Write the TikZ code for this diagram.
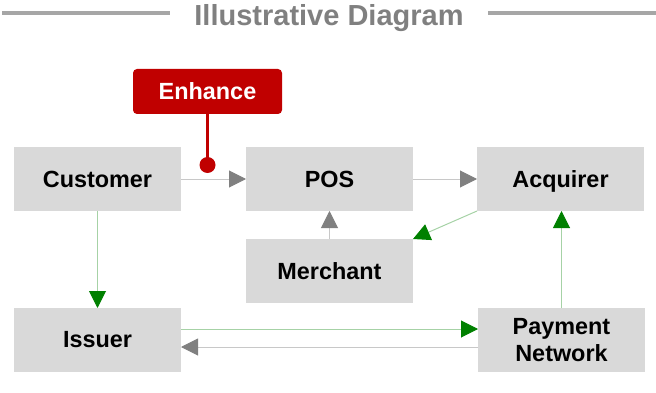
\documentclass[tikz,border=0pt]{standalone}
\usepackage{fontspec}
\setmainfont{Liberation Sans}
\usetikzlibrary{arrows.meta}
\definecolor{boxgray}{HTML}{D9D9D9}
\definecolor{tipgray}{HTML}{808080}
\definecolor{linegray}{HTML}{C8C8C8}
\definecolor{tipgreen}{HTML}{008000}
\definecolor{linegreen}{HTML}{A6D2A6}
\definecolor{enhred}{HTML}{C00000}
\definecolor{titlegray}{HTML}{808080}
\definecolor{titleline}{HTML}{A6A6A6}
\tikzset{
  box/.style={rectangle, fill=boxgray, minimum width=167pt, minimum height=64pt,
    inner sep=0pt, outer sep=0pt, align=center,
    font=\fontsize{23.4}{27}\selectfont\bfseries},
  grayarrow/.style={draw=linegray, line width=1pt,
    -{Triangle[length=17pt,width=17pt,color=tipgray]}},
  greenarrow/.style={draw=linegreen, line width=1pt,
    -{Triangle[length=17pt,width=17pt,color=tipgreen]}},
  enhbox/.style={rectangle, rounded corners=4pt, fill=enhred, text=white,
    minimum width=149pt, minimum height=45pt, inner sep=0pt, outer sep=0pt,
    font=\fontsize{23.4}{27}\selectfont\bfseries},
  enhdot/.style={circle, fill=enhred, minimum size=16pt, inner sep=0pt, outer sep=0pt},
  enhline/.style={draw=enhred, line width=2.6pt},
  titletext/.style={text=titlegray, inner xsep=24pt, inner ysep=0pt,
    font=\fontsize{29}{32}\selectfont\bfseries},
  titlerule/.style={draw=titleline, line width=4pt}
}
\begin{document}
\begin{tikzpicture}[x=1pt, y=-1pt]
\useasboundingbox (0,0) rectangle (656,393);
% title
\node[titletext, anchor=base] (title) at (329,26) {Illustrative Diagram};
\coordinate (tl) at (2,13);
\coordinate (tr) at (656,13);
\draw[titlerule] (tl) -- (title.west |- tl);
\draw[titlerule] (title.east |- tr) -- (tr);
% boxes
\node[box] (cust) at (97.5,179) {Customer};
\node[box] (pos) at (329.5,179) {POS};
\node[box, text depth=0pt] (acq) at (560.5,179) {Acquirer};
\node[box] (mer) at (329.5,271) {Merchant};
\node[box] (iss) at (97.5,340) {Issuer};
\node[box] (pay) at (561.5,340) {Payment\\Network};
% connectors
\draw[grayarrow] (cust.east) -- (pos.west);
\draw[grayarrow] (pos.east) -- (acq.west);
\draw[grayarrow] (mer.north) -- (pos.south);
\draw[greenarrow] (acq.south west) -- (mer.north east);
\draw[greenarrow] (cust.south) -- (iss.north);
\draw[greenarrow] (pay.north) -- (pay.north |- acq.south);
\draw[greenarrow] ([yshift=11pt]iss.east) -- ([yshift=11pt]pay.west);
\draw[grayarrow] ([yshift=-7pt]pay.west) -- ([yshift=-7pt]iss.east);
% enhance
\node[enhbox] (enh) at (207.5,91.5) {Enhance};
\node[enhdot] (dot) at (207.5,165) {};
\draw[enhline] (enh.south) -- (dot.center);
\end{tikzpicture}
\end{document}
